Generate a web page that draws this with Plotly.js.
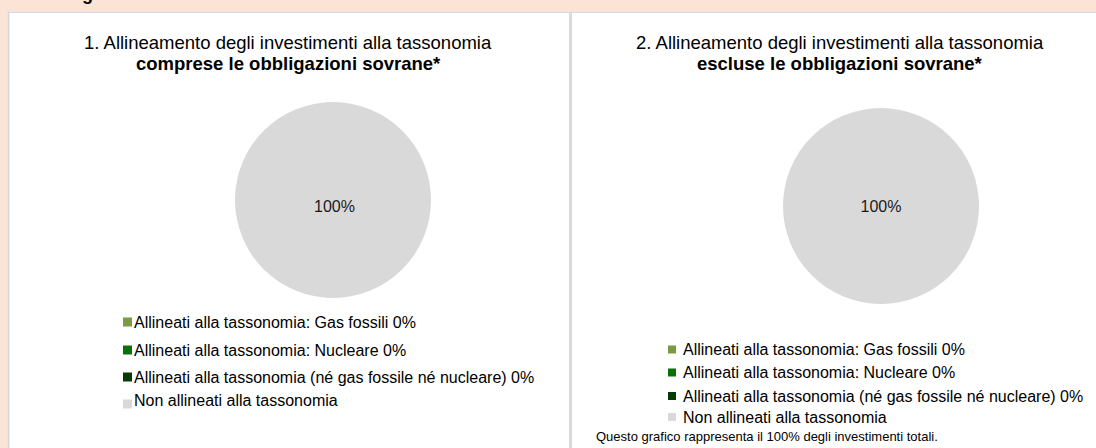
<!DOCTYPE html>
<html>
<head>
<meta charset="utf-8">
<script src="https://cdn.plot.ly/plotly-3.0.1.min.js"></script>
<style>
html,body{margin:0;padding:0;background:#fff;}
#chart{width:1096px;height:448px;}
</style>
</head>
<body>
<div id="chart"></div>
<script>
// ---- data ----
const categories = [
  'Allineati alla tassonomia: Gas fossili',
  'Allineati alla tassonomia: Nucleare',
  'Allineati alla tassonomia (né gas fossile né nucleare)',
  'Non allineati alla tassonomia'
];
const valuesInclSovereign = [0, 0, 0, 100];
const valuesExclSovereign = [0, 0, 0, 100];
const showValueInLegend = [true, true, true, false];
const sliceColors = ['#7a9a44', '#0a700a', '#063a06', '#d9d9d9'];
const chartTitles = ['1. Allineamento degli investimenti alla tassonomia', '2. Allineamento degli investimenti alla tassonomia'];
const chartSubtitles = ['comprese le obbligazioni sovrane*', 'escluse le obbligazioni sovrane*'];
const footnote = 'Questo grafico rappresenta il 100% degli investimenti totali.';

// ---- helpers (pixel -> paper) ----
const W = 1096, H = 448;
const X = px => px / W;
const Y = py => 1 - py / H;
const FONT = '"Liberation Sans", Arial, sans-serif';

const annotations = [];
function txt(text, x, y, size, opts) {
  annotations.push(Object.assign({
    xref: 'paper', yref: 'paper', x: X(x), y: Y(y), text: text, showarrow: false,
    xanchor: 'left', yanchor: 'middle', font: {family: FONT, size: size, color: '#000'}
  }, opts || {}));
}

// labelDy: vertical offset of the data label below the pie centre (px)
function pieTrace(values, cx, cy, r, labelDy) {
  const tr = {
    type: 'pie',
    labels: categories,
    values: values,
    text: values.map(v => v > 0 ? v + '%' : ''),
    textinfo: labelDy ? 'none' : 'text',
    textposition: 'inside',
    insidetextfont: {family: FONT, size: 16, color: '#1a1a1a'},
    marker: {colors: sliceColors, line: {width: 0}},
    sort: false,
    direction: 'clockwise',
    showlegend: false,
    hoverinfo: 'label+percent',
    domain: {x: [X(cx - r), X(cx + r)], y: [Y(cy + r), Y(cy - r)]}
  };
  if (labelDy) {
    const total = values.reduce((a, b) => a + b, 0);
    values.forEach(v => {
      if (v > 0 && v === total) txt(v + '%', cx + 2, cy + labelDy, 16, {xanchor: 'center', font: {family: FONT, size: 16, color: '#1a1a1a'}});
    });
  }
  return tr;
}

const traces = [
  pieTrace(valuesInclSovereign, 333, 200, 98, 6),
  pieTrace(valuesExclSovereign, 881, 206, 98, 0)
];

const shapes = [
  {type: 'rect', xref: 'paper', yref: 'paper', x0: X(0), x1: X(1096), y0: Y(11.5), y1: Y(0), fillcolor: '#fbe3d6', line: {width: 0}},
  {type: 'rect', xref: 'paper', yref: 'paper', x0: X(0), x1: X(7.5), y0: Y(448), y1: Y(0), fillcolor: '#fbe3d6', line: {width: 0}},
  {type: 'line', xref: 'paper', yref: 'paper', x0: X(8.5), x1: X(8.5), y0: Y(11.5), y1: Y(448), line: {color: '#d8d8e0', width: 2}},
  {type: 'line', xref: 'paper', yref: 'paper', x0: X(7.5), x1: X(1096), y0: Y(12.3), y1: Y(12.3), line: {color: '#dadae2', width: 1.6}},
  {type: 'line', xref: 'paper', yref: 'paper', x0: X(570.5), x1: X(570.5), y0: Y(12), y1: Y(448), line: {color: '#d9d9d9', width: 3}}
];

// clipped heading glyph at the very top (as in the reference)
txt('<b>g</b>', 80, 6, 18, {yanchor: 'bottom'});

// titles
const titleCenters = [288, 840];
for (let i = 0; i < 2; i++) {
  txt(chartTitles[i], titleCenters[i], 42, 18.5, {xanchor: 'center'});
  txt('<b>' + chartSubtitles[i] + '</b>', titleCenters[i], 64, 18.5, {xanchor: 'center'});
}

// legends
function legend(values, mx, msize, tx, rows, lastMarkerCy) {
  for (let i = 0; i < categories.length; i++) {
    const label = showValueInLegend[i] ? categories[i] + ' ' + values[i] + '%' : categories[i];
    const cy = (i === categories.length - 1 && lastMarkerCy) ? lastMarkerCy : rows[i];
    shapes.push({type: 'rect', xref: 'paper', yref: 'paper',
      x0: X(mx), x1: X(mx + msize), y0: Y(cy + msize / 2), y1: Y(cy - msize / 2),
      fillcolor: sliceColors[i], line: {width: 0}});
    txt(label, tx, rows[i], 16);
  }
}
legend(valuesInclSovereign, 123, 9, 132, [322, 350, 377, 400], 404);
legend(valuesExclSovereign, 668, 8, 681, [349.5, 372.5, 396, 417.5], 417);

txt(footnote, 594, 436, 13);

const layout = {
  width: W, height: H,
  margin: {l: 0, r: 0, t: 0, b: 0},
  paper_bgcolor: '#ffffff',
  plot_bgcolor: '#ffffff',
  showlegend: false,
  font: {family: FONT, color: '#000'},
  shapes: shapes,
  annotations: annotations
};

Plotly.newPlot('chart', traces, layout, {staticPlot: true, displayModeBar: false});
</script>
</body>
</html>
